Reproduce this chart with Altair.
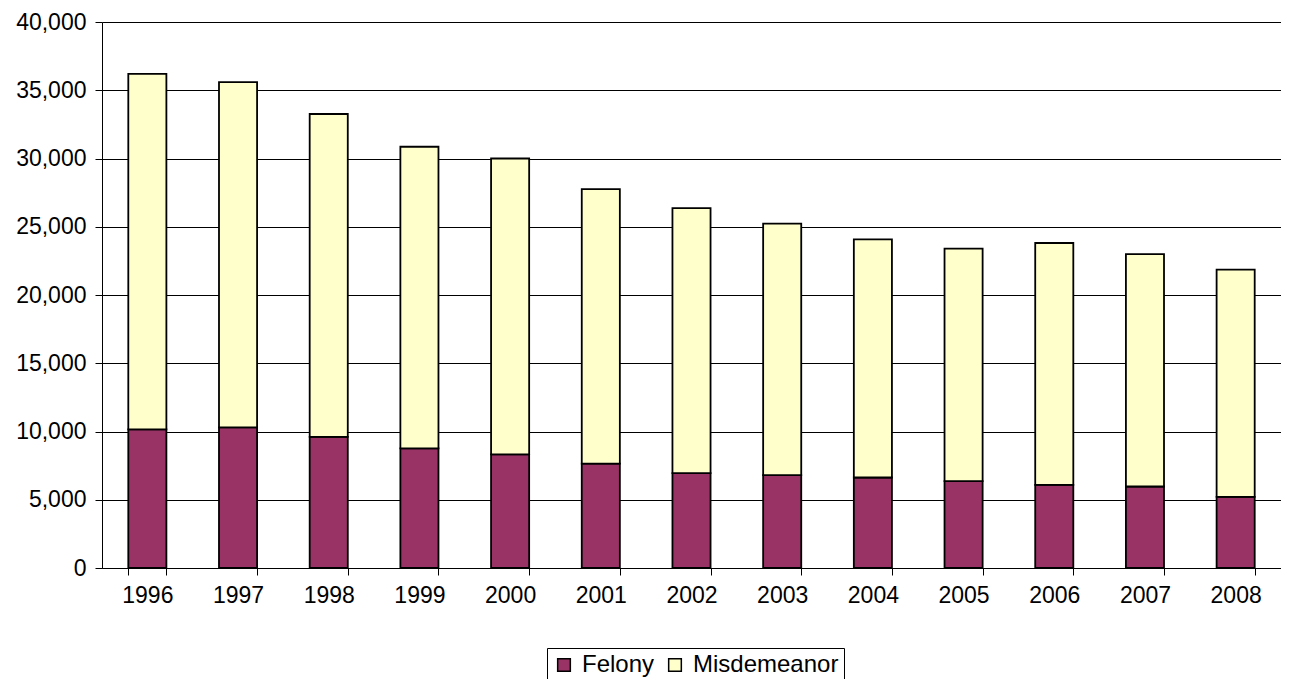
import altair as alt
import pandas as pd

years = ["1996", "1997", "1998", "1999", "2000", "2001", "2002",
         "2003", "2004", "2005", "2006", "2007", "2008"]
felony = [10150, 10300, 9600, 8760, 8330, 7640, 6950, 6800, 6630, 6370, 6090, 5970, 5210]
misdemeanor = [26050, 25300, 23660, 22100, 21670, 20110, 19410, 18430, 17450, 17030, 17720, 17030, 16650]
series = ["Felony", "Misdemeanor"]
colors = ["#993366", "#FFFFCC"]

rows = []
for i, y in enumerate(years):
    rows.append({"year": y, "type": series[0], "value": felony[i], "ord": 0})
    rows.append({"year": y, "type": series[1], "value": misdemeanor[i], "ord": 1})
df = pd.DataFrame(rows)

FONT = "Liberation Sans"

chart = alt.Chart(df).mark_bar(stroke="black", strokeWidth=1.8).encode(
    x=alt.X("year:N", sort=years, title=None,
            scale=alt.Scale(paddingInner=0.58, paddingOuter=0.29),
            axis=alt.Axis(labelAngle=0, tickBand="extent", tickSize=7,
                          labelPadding=9, domainColor="black", tickColor="black",
                          labelFontSize=23, labelFont=FONT, labelColor="black")),
    y=alt.Y("value:Q", stack="zero", title=None,
            scale=alt.Scale(domain=[0, 40000]),
            axis=alt.Axis(values=[0, 5000, 10000, 15000, 20000, 25000, 30000, 35000, 40000],
                          format=",d", tickSize=7, labelPadding=9,
                          gridColor="black", gridWidth=1, gridOpacity=1,
                          domainColor="black", tickColor="black",
                          labelFontSize=23, labelFont=FONT, labelColor="black")),
    color=alt.Color("type:N", sort=series,
                    scale=alt.Scale(domain=series, range=colors),
                    legend=alt.Legend(title=None, orient="none", direction="horizontal",
                                      legendX=445, legendY=626,
                                      symbolType="square", symbolSize=160,
                                      symbolStrokeColor="black", symbolStrokeWidth=1.5,
                                      labelFontSize=24, labelFont=FONT, labelColor="black",
                                      strokeColor="black", fillColor="white",
                                      padding=5, columnPadding=8, labelOffset=6)),
    order=alt.Order("ord:Q", sort="ascending"),
).properties(
    width=1179, height=546,
    autosize=alt.AutoSizeParams(type="none"),
    padding={"left": 94, "top": 14, "right": 0, "bottom": 111},
).configure_view(stroke=None).configure_axisX(grid=False)

chart.save("out.html", embed_options={"renderer": "svg", "actions": False})
